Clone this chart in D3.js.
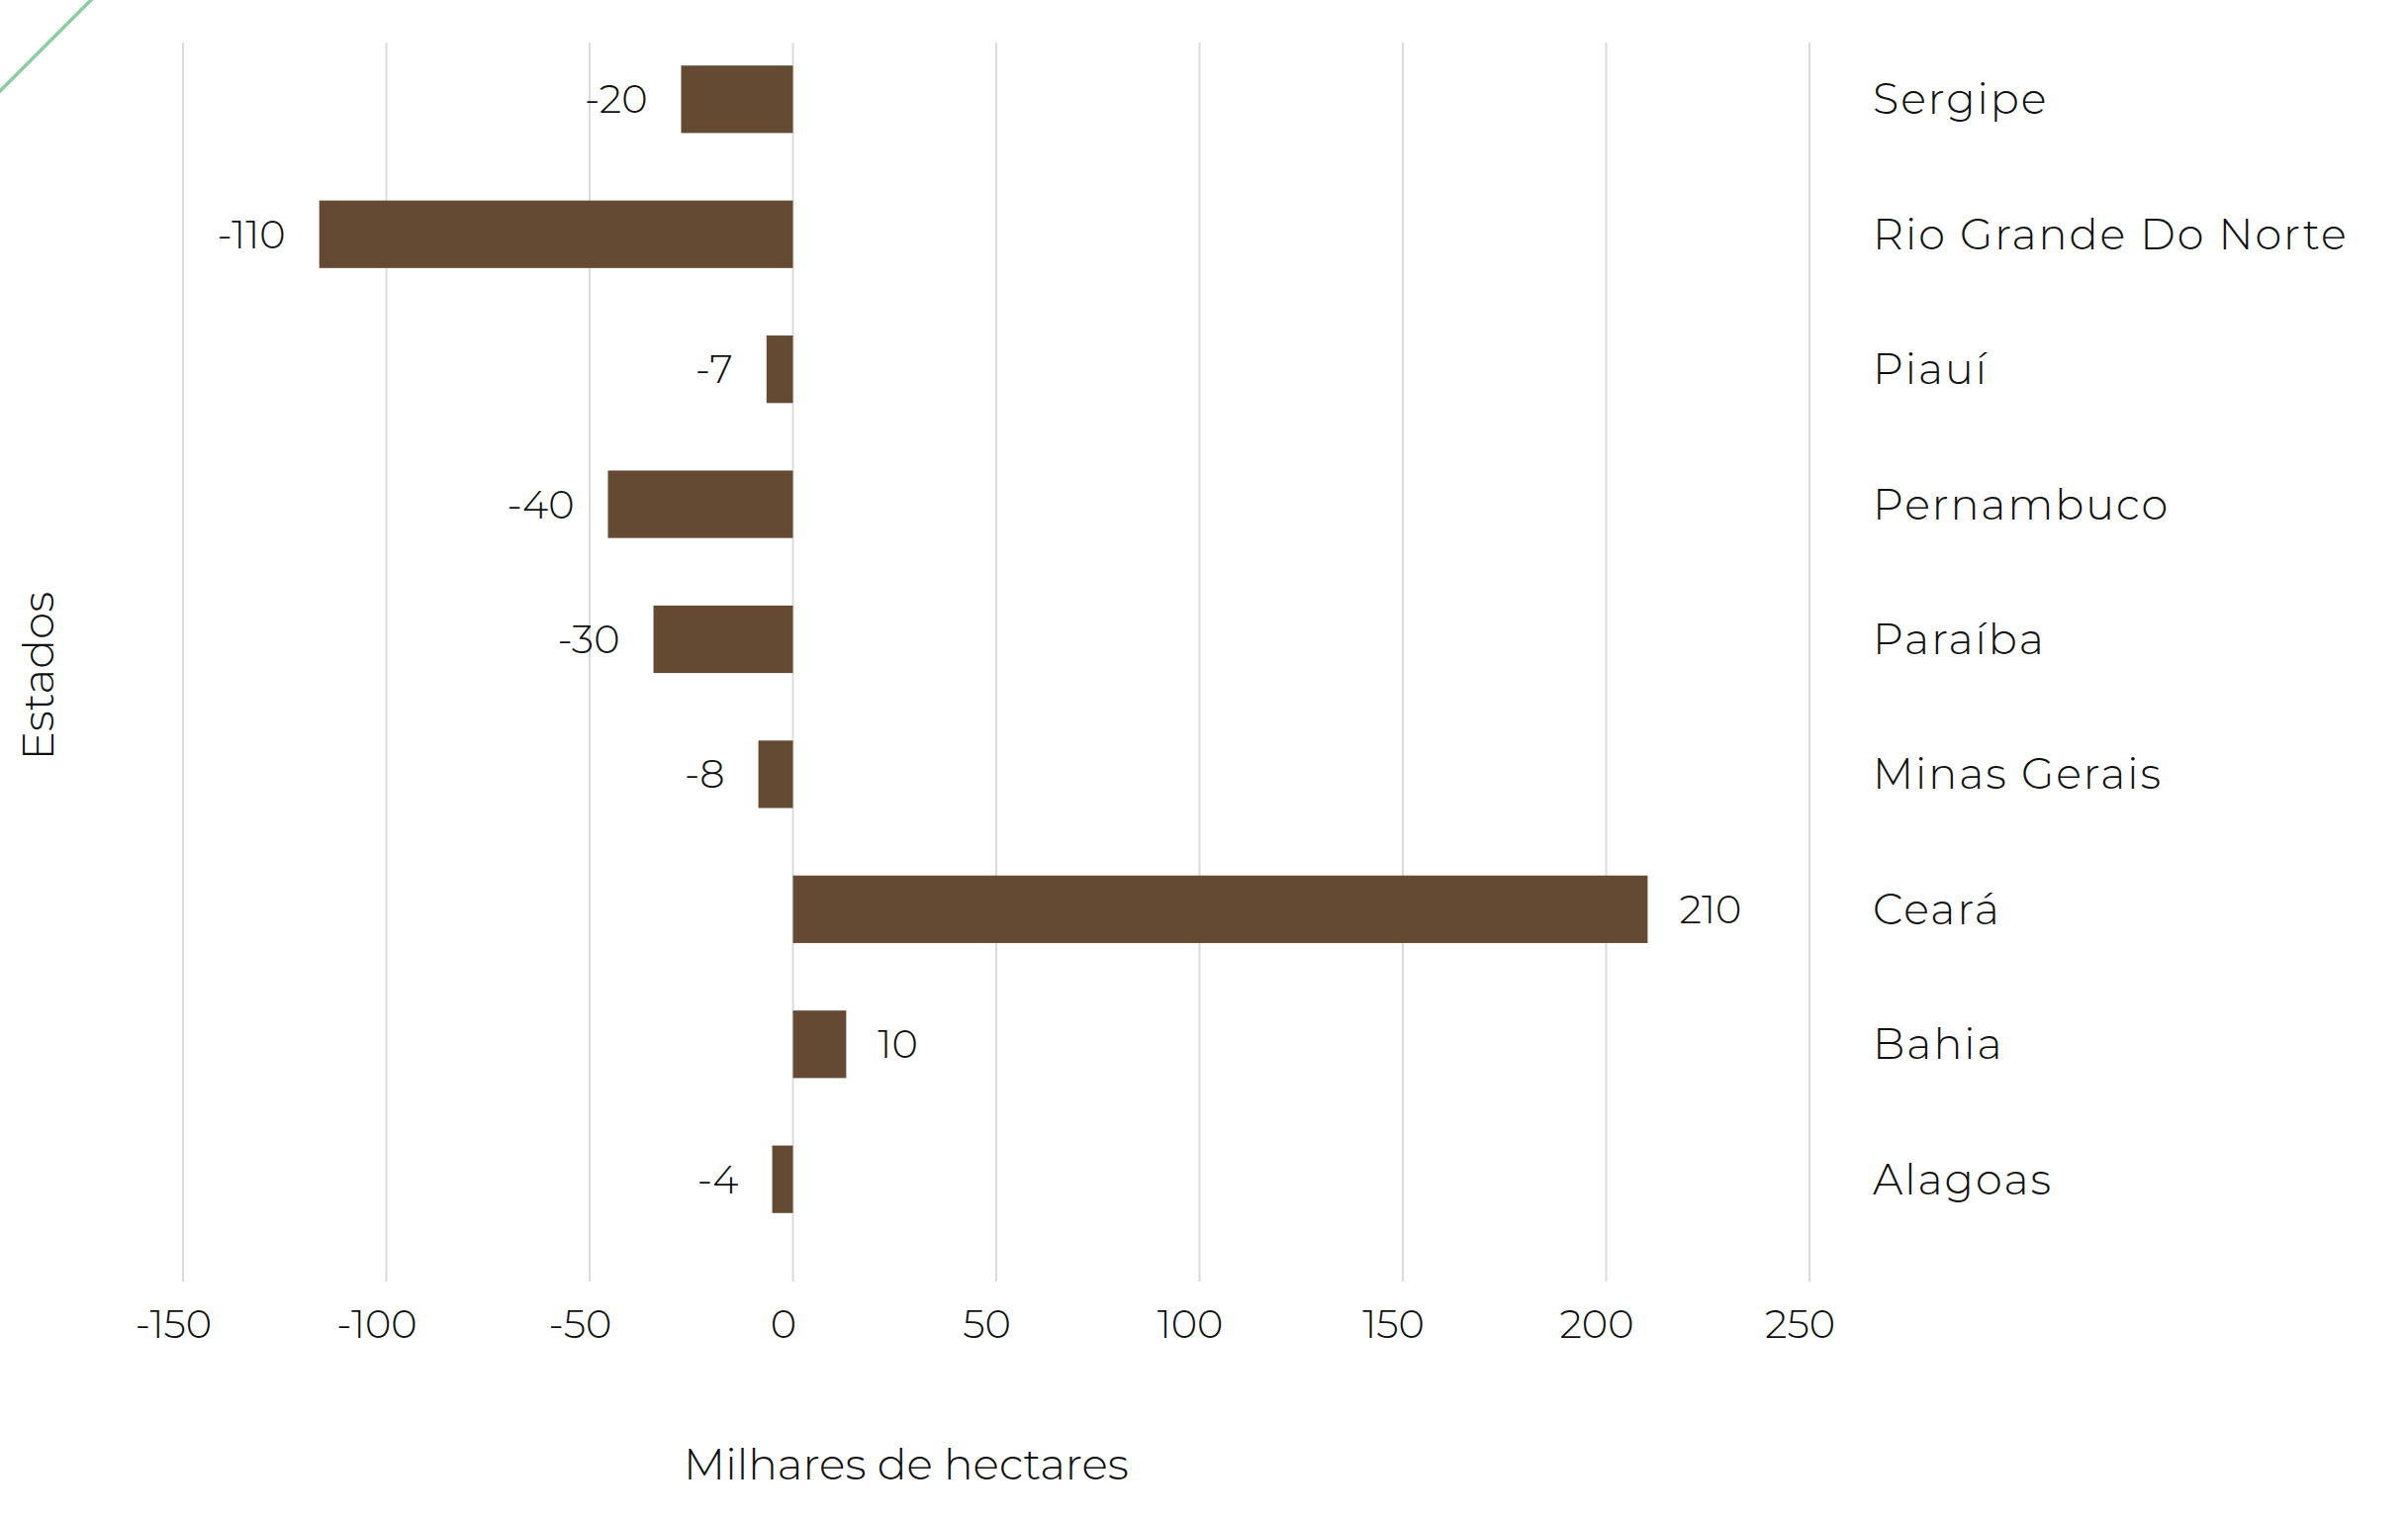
<!DOCTYPE html>
<html><head><meta charset="utf-8">
<script src="https://cdn.jsdelivr.net/npm/d3@7"></script>
<style>
body{margin:0;background:#fff;overflow:hidden}
text{font-family:Montserrat,Inter,"Open Sans",sans-serif;font-weight:300;fill:#111}
</style>
</head><body>
<svg id="c" width="2434" height="1538"></svg>
<script>
const states = ["Sergipe","Rio Grande Do Norte","Piauí","Pernambuco","Paraíba","Minas Gerais","Ceará","Bahia","Alagoas"];
const values = [-27.5,-116.5,-6.5,-45.5,-34.3,-8.5,210.2,13.1,-5.1];
const valueLabels = ["-20","-110","-7","-40","-30","-8","210","10","-4"];
const xTicks = [-150,-100,-50,0,50,100,150,200,250];
const xTitle = "Milhares de hectares";
const yTitle = "Estados";

const svg = d3.select("#c");
const x = d3.scaleLinear().domain([-150,250]).range([185,1829]);
const y = d3.scaleBand().domain(states).range([-2,1294]).padding(0.5);
const gridTop = 43, gridBottom = 1295;

// decorative green line
svg.append("line").attr("x1",-4).attr("y1",96).attr("x2",96).attr("y2",-4)
  .attr("stroke","#8ccfa5").attr("stroke-width",3.5);

// gridlines
svg.append("g").selectAll("line").data(xTicks).join("line")
  .attr("x1",d=>x(d)).attr("x2",d=>x(d)).attr("y1",gridTop).attr("y2",gridBottom)
  .attr("stroke","#dcdcdc").attr("stroke-width",2);

// bars
svg.append("g").selectAll("rect").data(states).join("rect")
  .attr("x",(d,i)=>Math.min(x(0),x(values[i])))
  .attr("width",(d,i)=>Math.abs(x(values[i])-x(0)))
  .attr("y",d=>y(d)).attr("height",y.bandwidth())
  .attr("fill","#654a33");

// value labels
svg.append("g").selectAll("text").data(states).join("text")
  .attr("x",(d,i)=>values[i]<0 ? x(values[i])-34 : x(values[i])+32)
  .attr("y",d=>y(d)+y.bandwidth()/2)
  .attr("dy","0.35em")
  .attr("text-anchor",(d,i)=>values[i]<0?"end":"start")
  .style("font-size","40px")
  .text((d,i)=>valueLabels[i]);

// state labels (right side)
svg.append("g").selectAll("text").data(states).join("text")
  .attr("x",1893)
  .attr("y",d=>y(d)+y.bandwidth()/2)
  .attr("dy","0.35em")
  .style("font-size","43px")
  .style("letter-spacing","2px")
  .text(d=>d);

// x axis tick labels
const ax = svg.append("g").attr("transform","translate(0,1338)")
  .call(d3.axisBottom(x).tickValues(xTicks).tickSize(0).tickPadding(0).tickFormat(d=>String(d)));
ax.select(".domain").remove();
ax.selectAll("text").attr("dy","0.35em").attr("dx","-10").style("font-size","40px")
  .style("font-family","Montserrat,Inter,'Open Sans',sans-serif").attr("fill","#111");

// axis titles
svg.append("text").attr("x",916).attr("y",1480).attr("dy","0.35em")
  .attr("text-anchor","middle").style("font-size","44px").text(xTitle);
svg.append("text").attr("transform","translate(39,683) rotate(-90)")
  .attr("dy","0.35em").attr("text-anchor","middle").style("font-size","44px").text(yTitle);
</script>
</body></html>
